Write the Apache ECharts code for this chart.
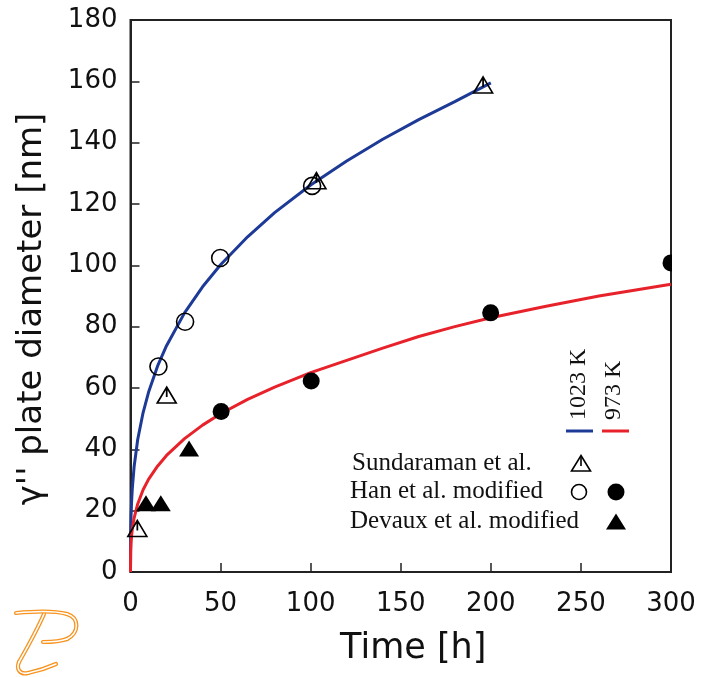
<!DOCTYPE html>
<html>
<head>
<meta charset="utf-8">
<script src="https://cdn.jsdelivr.net/npm/echarts@6/dist/echarts.min.js"></script>
<style>
  html, body { margin: 0; padding: 0; background: #fff; }
  #chart { width: 703px; height: 677px; }
</style>
</head>
<body>
<div id="chart"></div>
<script>
// Model curves: γ'' plate diameter vs. ageing time
const curveTime1023 = [0, 0.1, 0.3, 0.6, 1, 2, 4, 7, 10, 15, 20, 30, 40, 50, 65, 80, 100, 120, 140, 160, 180, 200];
const curveDia1023  = [0, 12.6, 18.2, 22.9, 27.2, 34.3, 43.2, 52, 58.6, 67.1, 73.8, 84.5, 93, 100.2, 109.3, 117.2, 126.2, 134, 141.1, 147.5, 153.4, 159.5];
const curveTime973  = [0, 0.1, 0.3, 0.6, 1, 2, 4, 7, 10, 15, 20, 30, 40, 50, 65, 80, 100, 120, 140, 160, 180, 200, 230, 260, 300];
const curveDia973   = [0, 6.5, 9.4, 11.8, 14, 17.6, 22.2, 26.8, 30.2, 34.5, 38, 43.5, 47.9, 51.6, 56.3, 60.3, 65, 69, 73, 76.8, 80, 82.9, 86.6, 90, 93.8];

// Experimental data
const sundaramanTime = [3.8, 20.1, 103.2, 195.7];
const sundaramanDia  = [14.2, 57.7, 127.6, 158.8];
const han1023Time = [15.5, 30.3, 49.8, 100.8];
const han1023Dia  = [67, 81.6, 102.4, 125.9];
const han973Time = [50.3, 100.3, 199.9, 300];
const han973Dia  = [52.3, 62.3, 84.5, 100.8];
const devauxTime = [8.6, 16.8, 32.5];
const devauxDia  = [22.4, 22.4, 40.3];

const xTicks = [0, 50, 100, 150, 200, 250, 300];
const yTicks = [0, 20, 40, 60, 80, 100, 120, 140, 160, 180];

const legendRows = ['Sundaraman et al.', 'Han et al. modified', 'Devaux et al. modified'];
const legendTemps = ['1023 K', '973 K'];

const BLUE = '#1d3a97';
const RED = '#e8222b';
const INK = '#111';
const ORANGE = '#f7931e';

const pairs = (xs, ys) => xs.map((x, i) => [x, ys[i]]);

// open triangle with a short inner stroke from the apex
const triOpen = 'path://M0,0 L10,16 L-10,16 Z M0,0 L0,10';
const triFilled = 'path://M0,0 L10,16 L-10,16 Z';

// logo strokes as cubic segments [x1, y1, cpx1, cpy1, cpx2, cpy2, x2, y2]
const logoSegments = [
  [16, 613, 36, 611, 56, 611, 67, 614],
  [67, 614, 80, 618, 79, 633, 67, 639],
  [67, 639, 59, 642, 50, 642, 43, 642],
  [44, 614, 37, 630, 27, 648, 19, 662],
  [19, 662, 16, 669, 20, 675, 28, 673],
  [28, 673, 38, 671, 47, 668, 56, 664]
];

function logoGraphics() {
  const out = [];
  logoSegments.forEach((s) => {
    const shape = { x1: s[0], y1: s[1], cpx1: s[2], cpy1: s[3], cpx2: s[4], cpy2: s[5], x2: s[6], y2: s[7] };
    out.push({ type: 'bezierCurve', shape: shape, style: { fill: null, stroke: ORANGE, lineWidth: 4.2, lineCap: 'round' }, z: 60 });
    out.push({ type: 'bezierCurve', shape: shape, style: { fill: null, stroke: '#fff', lineWidth: 1.6, lineCap: 'round' }, z: 61 });
  });
  return out;
}

const chart = echarts.init(document.getElementById('chart'), null, { renderer: 'canvas' });

const axisFont = { fontFamily: 'DejaVu Sans', fontSize: 26, color: INK };

const option = {
  animation: false,
  backgroundColor: '#fff',
  grid: {
    left: 130.5, right: 32, top: 20, bottom: 105,
    show: true, borderColor: '#222', borderWidth: 2, backgroundColor: 'transparent'
  },
  xAxis: {
    type: 'value', min: xTicks[0], max: xTicks[xTicks.length - 1], interval: 50,
    axisLine: { show: true, lineStyle: { color: '#222', width: 2 } },
    axisTick: { show: true, inside: true, length: 9, lineStyle: { color: '#222', width: 1.5 } },
    splitLine: { show: false },
    axisLabel: Object.assign({ margin: 19 }, axisFont),
    name: 'Time [h]', nameLocation: 'middle', nameGap: 59,
    nameTextStyle: { fontFamily: 'DejaVu Sans', fontSize: 35, color: INK, padding: [0, 0, 0, 25] }
  },
  yAxis: {
    type: 'value', min: yTicks[0], max: yTicks[yTicks.length - 1], interval: 20,
    axisLine: { show: true, lineStyle: { color: '#222', width: 2 } },
    axisTick: { show: true, inside: true, length: 9, lineStyle: { color: '#222', width: 1.5 } },
    splitLine: { show: false },
    axisLabel: Object.assign({ margin: 13, padding: [4, 0, 0, 0] }, axisFont),
    name: "γ'' plate diameter [nm]", nameLocation: 'middle', nameGap: 81,
    nameTextStyle: { fontFamily: 'DejaVu Sans', fontSize: 34, color: INK, padding: [0, 26, 0, 0] }
  },
  series: [
    {
      name: '1023 K', type: 'line', data: pairs(curveTime1023, curveDia1023),
      showSymbol: false, lineStyle: { color: BLUE, width: 3 }, z: 3
    },
    {
      name: '973 K', type: 'line', data: pairs(curveTime973, curveDia973),
      showSymbol: false, lineStyle: { color: RED, width: 3 }, z: 3
    },
    {
      name: 'Sundaraman et al.', type: 'scatter', data: pairs(sundaramanTime, sundaramanDia),
      symbol: triOpen, symbolSize: [19, 16],
      itemStyle: { color: 'rgba(255,255,255,0)', borderColor: '#000', borderWidth: 1.6, opacity: 1 }, z: 4
    },
    {
      name: 'Han et al. 1023 K', type: 'scatter', data: pairs(han1023Time, han1023Dia),
      symbol: 'circle', symbolSize: 17,
      itemStyle: { color: 'rgba(255,255,255,0)', borderColor: '#000', borderWidth: 1.6, opacity: 1 }, z: 4
    },
    {
      name: 'Han et al. 973 K', type: 'scatter', data: pairs(han973Time, han973Dia),
      symbol: 'circle', symbolSize: 17, itemStyle: { color: '#000', opacity: 1 }, z: 4
    },
    {
      name: 'Devaux et al.', type: 'scatter', data: pairs(devauxTime, devauxDia),
      symbol: triFilled, symbolSize: [20, 16], itemStyle: { color: '#000', opacity: 1 }, z: 4
    }
  ],
  graphic: [
    // mask beyond the right frame so the marker at 300 h is cut by the border
    { type: 'rect', shape: { x: 672, y: 245, width: 31, height: 38 }, style: { fill: '#fff' }, z: 100, silent: true },
    // legend: temperature keys
    { type: 'text', x: 579, y: 420, rotation: Math.PI / 2,
      style: { text: legendTemps[0], font: '24px "Liberation Serif"', fill: '#111', align: 'left', verticalAlign: 'middle' }, z: 50 },
    { type: 'text', x: 614, y: 420, rotation: Math.PI / 2,
      style: { text: legendTemps[1], font: '24px "Liberation Serif"', fill: '#111', align: 'left', verticalAlign: 'middle' }, z: 50 },
    { type: 'line', shape: { x1: 566, y1: 431, x2: 593, y2: 431 }, style: { stroke: BLUE, lineWidth: 3 }, z: 50 },
    { type: 'line', shape: { x1: 602, y1: 431, x2: 629, y2: 431 }, style: { stroke: RED, lineWidth: 3 }, z: 50 },
    // legend: source rows
    { type: 'text', x: 352, y: 463.5, style: { text: legendRows[0], font: '25px "Liberation Serif"', fill: '#111', verticalAlign: 'middle' }, z: 50 },
    { type: 'text', x: 350, y: 491.5, style: { text: legendRows[1], font: '25px "Liberation Serif"', fill: '#111', verticalAlign: 'middle' }, z: 50 },
    { type: 'text', x: 350, y: 521.5, style: { text: legendRows[2], font: '25px "Liberation Serif"', fill: '#111', verticalAlign: 'middle' }, z: 50 },
    { type: 'polygon', shape: { points: [[581, 455.5], [590.5, 471], [571.5, 471]] }, style: { fill: 'none', stroke: '#000', lineWidth: 1.6 }, z: 50 },
    { type: 'line', shape: { x1: 581, y1: 456, x2: 581, y2: 466 }, style: { stroke: '#000', lineWidth: 1.6 }, z: 50 },
    { type: 'circle', shape: { cx: 579, cy: 492, r: 7.5 }, style: { fill: 'none', stroke: '#000', lineWidth: 1.6 }, z: 50 },
    { type: 'circle', shape: { cx: 616, cy: 492, r: 8.5 }, style: { fill: '#000' }, z: 50 },
    { type: 'polygon', shape: { points: [[616, 513.5], [626, 529.5], [606, 529.5]] }, style: { fill: '#000' }, z: 50 }
  ].concat(logoGraphics())
};

chart.setOption(option);
</script>
</body>
</html>
